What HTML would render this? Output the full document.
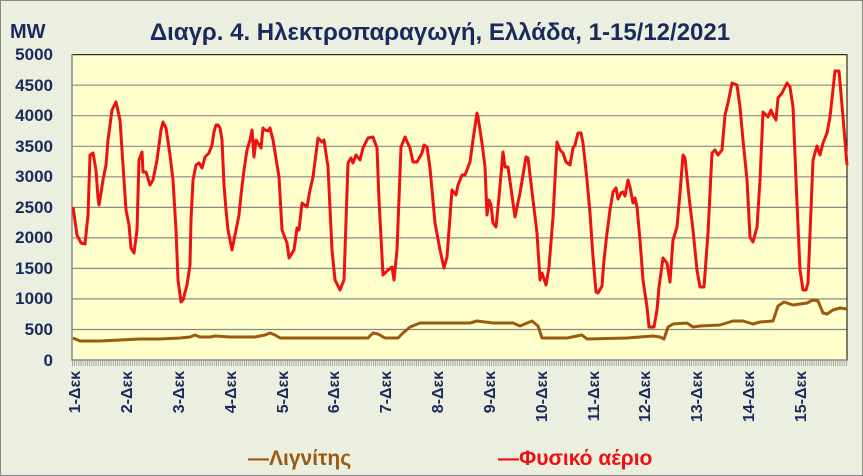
<!DOCTYPE html>
<html><head><meta charset="utf-8"><style>
html,body{margin:0;padding:0;background:#ebefdf;}
svg{display:block;font-family:"Liberation Sans","DejaVu Sans",sans-serif;}
</style></head><body>
<svg width="863" height="476" viewBox="0 0 863 476">
<defs>
<pattern id="tk" x="72" y="0" width="2.15" height="10" patternUnits="userSpaceOnUse">
<rect x="0" y="0" width="0.8" height="10" fill="#999"/>
</pattern>
</defs>
<rect x="0.5" y="0.5" width="862" height="475" fill="#ebefdf" stroke="#888"/>
<text x="10" y="38" font-size="20" font-weight="bold" fill="#1a2a5e">MW</text>
<text x="440" y="40" font-size="24" font-weight="bold" fill="#1a2a5e" text-anchor="middle">Διαγρ. 4. Ηλεκτροπαραγωγή, Ελλάδα, 1-15/12/2021</text>
<rect x="72" y="54.7" width="775" height="305.3" fill="#ffffcc"/>
<g stroke="#888" stroke-width="1.2">
<line x1="72" x2="847" y1="85.2" y2="85.2"/>
<line x1="72" x2="847" y1="115.7" y2="115.7"/>
<line x1="72" x2="847" y1="146.3" y2="146.3"/>
<line x1="72" x2="847" y1="176.8" y2="176.8"/>
<line x1="72" x2="847" y1="207.4" y2="207.4"/>
<line x1="72" x2="847" y1="237.9" y2="237.9"/>
<line x1="72" x2="847" y1="268.4" y2="268.4"/>
<line x1="72" x2="847" y1="298.9" y2="298.9"/>
<line x1="72" x2="847" y1="329.5" y2="329.5"/>
</g>
<rect x="72" y="54.7" width="775" height="305.3" fill="none" stroke="#000" stroke-width="1"/>
<line x1="72" x2="72" y1="54" y2="360" stroke="#888" stroke-width="1.5"/>
<line x1="72" x2="847" y1="360" y2="360" stroke="#888" stroke-width="1.5"/>
<rect x="72" y="360" width="775" height="6" fill="url(#tk)"/>
<g font-size="17" font-weight="bold" fill="#1a2a5e" text-anchor="end">
<text x="53" y="60">5000</text><text x="53" y="91">4500</text><text x="53" y="121">4000</text>
<text x="53" y="152">3500</text><text x="53" y="182">3000</text><text x="53" y="213">2500</text>
<text x="53" y="243">2000</text><text x="53" y="274">1500</text><text x="53" y="304">1000</text>
<text x="53" y="335">500</text><text x="53" y="366">0</text>
</g>
<g font-size="16" font-weight="bold" fill="#1a2a5e" text-anchor="end">
<text transform="translate(80,371) rotate(-90)">1-Δεκ</text>
<text transform="translate(132,371) rotate(-90)">2-Δεκ</text>
<text transform="translate(184,371) rotate(-90)">3-Δεκ</text>
<text transform="translate(236,371) rotate(-90)">4-Δεκ</text>
<text transform="translate(288,371) rotate(-90)">5-Δεκ</text>
<text transform="translate(339,371) rotate(-90)">6-Δεκ</text>
<text transform="translate(391,371) rotate(-90)">7-Δεκ</text>
<text transform="translate(443,371) rotate(-90)">8-Δεκ</text>
<text transform="translate(495,371) rotate(-90)">9-Δεκ</text>
<text transform="translate(547,371) rotate(-90)">10-Δεκ</text>
<text transform="translate(599,371) rotate(-90)">11-Δεκ</text>
<text transform="translate(650,371) rotate(-90)">12-Δεκ</text>
<text transform="translate(702,371) rotate(-90)">13-Δεκ</text>
<text transform="translate(754,371) rotate(-90)">14-Δεκ</text>
<text transform="translate(806,371) rotate(-90)">15-Δεκ</text>
</g>
<polyline fill="none" stroke="#9b5a10" stroke-width="3" stroke-linejoin="round" points="73,338 80,341 100,341 120,340 140,339 160,339 180,338 190,337 195,335 200,337 210,337 215,336 230,337 255,337 265,335 270,333 275,335 280,338 300,338 340,338 368,338 373,333 378,334 385,338 398,338 403,333 410,327 420,323 440,323 470,323 477,321 485,322 493,323 513,323 520,326 532,321 538,326 542,338 567,338 582,335 587,339 627,338 653,336 660,337 664,339 668,327 673,324 687,323 693,327 700,326 720,325 733,321 743,321 753,324 760,322 773,321 778,306 784,302 793,305 800,304 807,303 813,300 818,301 823,313 827,314 833,310 840,308 847,309"/>
<polyline fill="none" stroke="#ee1111" stroke-width="3" stroke-linejoin="round" points="73,207 77,235 81,243 85,244 88,215 90,155 93,153 96,170 98,198 99,205 101,193 103,180 106,165 108,140 112,110 116,102 120,120 124,180 126,210 129,225 131,248 134,253 137,230 139,160 142,152 143,172 146,172 150,185 153,180 157,160 161,130 163,122 166,128 170,155 173,180 176,230 178,280 181,302 183,300 187,285 190,265 191,220 193,180 196,165 199,163 202,168 205,157 209,153 212,145 214,132 216,125 218,125 220,128 222,140 224,185 226,210 228,230 232,250 236,230 239,215 241,195 244,170 247,150 250,140 252,130 254,157 256,140 258,143 261,148 263,128 265,130 268,131 270,128 273,140 279,177 282,230 287,243 289,258 294,250 297,228 299,230 302,203 307,207 310,190 313,177 318,138 322,142 324,140 328,167 332,250 335,280 340,290 344,280 348,163 351,158 353,163 356,155 360,160 363,148 368,138 373,137 377,148 379,200 383,275 388,270 392,267 394,280 397,250 401,147 405,137 410,148 413,162 417,162 422,153 424,145 427,147 430,168 435,223 440,250 444,268 447,257 452,190 456,195 458,185 462,175 465,175 470,162 473,140 477,113 478,117 482,143 485,167 487,215 489,200 491,205 493,223 496,227 499,197 503,152 505,167 508,167 515,217 520,193 526,157 528,158 533,200 537,233 540,280 542,273 546,285 549,267 553,217 557,142 560,150 563,153 566,162 570,165 573,148 575,145 578,133 581,133 583,143 587,180 590,213 593,257 596,292 598,293 602,286 604,260 607,233 610,210 613,192 616,188 618,199 621,193 623,192 625,196 628,180 630,187 633,203 635,198 637,207 640,240 643,280 647,307 649,327 654,327 657,310 659,287 663,258 667,263 670,282 673,240 677,227 680,193 683,155 685,158 689,197 693,230 697,270 700,287 704,287 708,233 712,153 715,150 718,155 722,150 725,115 728,103 732,83 737,85 740,107 743,140 747,180 750,237 753,242 757,227 760,180 763,112 766,115 768,117 771,110 773,115 776,120 778,98 782,93 787,83 790,87 793,107 797,203 800,270 803,290 806,290 808,283 813,160 817,146 820,155 823,143 827,133 830,117 835,71 839,71 843,117 847,165"/>
<g font-size="21" font-weight="bold">
<text x="248" y="465" fill="#9b5a10">—Λιγνίτης</text>
<text x="498" y="465" fill="#ee1111">—Φυσικό αέριο</text>
</g>
</svg>
</body></html>
